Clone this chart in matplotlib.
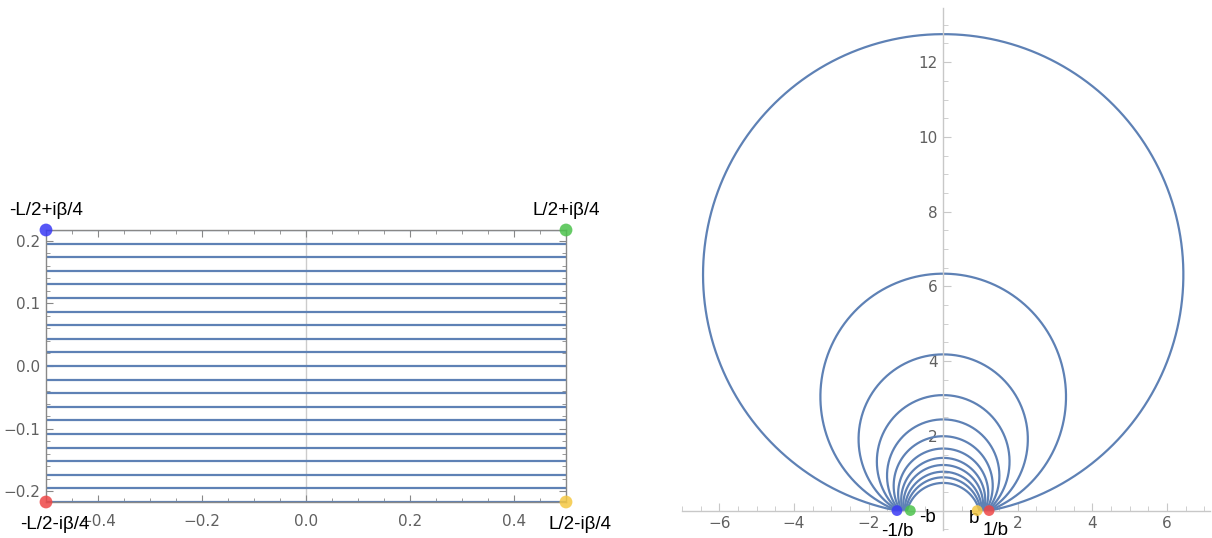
import numpy as np
import matplotlib
matplotlib.use("Agg")
import matplotlib.pyplot as plt
from matplotlib.ticker import MultipleLocator, FuncFormatter

# left panel: horizontal lines of the strip
x_ends = [-0.5, 0.5]
y_levels = [0.2175, 0.1958, 0.174, 0.1523, 0.1305, 0.1088, 0.087, 0.0653, 0.0435, 0.0218, 0.0,
            -0.0218, -0.0435, -0.0653, -0.087, -0.1088, -0.1305, -0.1523, -0.174, -0.1958, -0.2175]
corner_x = [-0.5, 0.5, -0.5, 0.5]
corner_y = [0.2175, 0.2175, -0.2175, -0.2175]
corner_labels = ["-L/2+i\u03b2/4", "L/2+i\u03b2/4", "-L/2-i\u03b2/4", "L/2-i\u03b2/4"]
corner_colors = ["#3a3af5", "#4cc24c", "#ee4646", "#f5c842"]

# right panel: arcs (top height on the y axis, foot on the real axis)
arc_tops = [12.75, 6.34, 4.18, 3.09, 2.44, 1.99, 1.66, 1.41, 1.22, 1.04, 0.89, 0.74]
arc_feet = [1.25, 1.24, 1.22, 1.20, 1.18, 1.15, 1.12, 1.09, 1.06, 1.03, 1.0, 0.97]
point_x = [-1.24, -0.88, 0.91, 1.23]
point_labels = ["-1/b", "-b", "b", "1/b"]
point_colors = ["#3a3af5", "#4cc24c", "#f5c842", "#ee4646"]

line_color = "#5e81b5"
tick_color = "#606060"
label_font = "Liberation Sans"


def minus(v, pos):
    return ("%.1f" % v).replace("-", "\u2212")


fig = plt.figure(figsize=(12.12, 5.38), dpi=100)

# ---------- left panel ----------
ax1 = fig.add_axes([46 / 1212, 36 / 538, 520 / 1212, 272 / 538])
for y in y_levels:
    ax1.plot(x_ends, [y, y], color=line_color, lw=1.6, solid_capstyle="butt")
ax1.axvline(0, color="#cccccc", lw=1, zorder=1)
ax1.set_xlim(-0.5, 0.5)
ax1.set_ylim(-0.2175, 0.2175)
for s in ax1.spines.values():
    s.set_color("#888888")
    s.set_linewidth(1.0)
ax1.xaxis.set_major_locator(MultipleLocator(0.2))
ax1.xaxis.set_minor_locator(MultipleLocator(0.05))
ax1.yaxis.set_major_locator(MultipleLocator(0.1))
ax1.yaxis.set_minor_locator(MultipleLocator(0.02))
ax1.xaxis.set_major_formatter(FuncFormatter(minus))
ax1.yaxis.set_major_formatter(FuncFormatter(minus))
ax1.tick_params(which="both", direction="in", top=True, right=True, color="#888888",
                labelcolor=tick_color, labelsize=11)
ax1.tick_params(which="major", length=5)
ax1.tick_params(which="minor", length=3)
ax1.tick_params(axis="x", pad=9)
ax1.tick_params(axis="y", pad=4)

ax1.scatter(corner_x, corner_y, s=85, c=corner_colors, alpha=0.85, zorder=5,
            clip_on=False, edgecolors="none")
offsets = [(0, 14), (0, 14), (6, -16), (10, -16)]
for x, y, t, off in zip(corner_x, corner_y, corner_labels, offsets):
    ax1.annotate(t, (x, y), xytext=off, textcoords="offset points", ha="center",
                 va="center", fontsize=13.5, family=label_font, annotation_clip=False)

# ---------- right panel ----------
ax2 = fig.add_axes([682 / 1212, 8 / 538, 528 / 1212, 522 / 538])
for h, x0 in zip(arc_tops, arc_feet):
    c = (h ** 2 - x0 ** 2) / (2 * h)
    r = h - c
    t0 = np.arctan2(-c, x0)
    t = np.linspace(t0, np.pi - t0, 400)
    ax2.plot(r * np.cos(t), c + r * np.sin(t), color=line_color, lw=1.6)

ax2.set_xlim(-7.0, 7.15)
ax2.set_ylim(-0.52, 13.45)
ax2.spines["left"].set_position(("data", 0))
ax2.spines["bottom"].set_position(("data", 0))
ax2.spines["top"].set_visible(False)
ax2.spines["right"].set_visible(False)
for s in ("left", "bottom"):
    ax2.spines[s].set_color("#c8c8c8")
    ax2.spines[s].set_linewidth(1.0)
ax2.set_xticks([-6, -4, -2, 2, 4, 6])
ax2.set_yticks([2, 4, 6, 8, 10, 12])
ax2.xaxis.set_minor_locator(MultipleLocator(0.5))
ax2.yaxis.set_minor_locator(MultipleLocator(0.5))
ax2.xaxis.set_major_formatter(FuncFormatter(lambda v, p: ("%d" % v).replace("-", "\u2212")))
ax2.tick_params(which="both", direction="in", color="#c8c8c8", labelcolor=tick_color,
                labelsize=11)
ax2.tick_params(which="major", length=6)
ax2.tick_params(which="minor", length=3.5)
ax2.tick_params(axis="x", pad=4)
ax2.tick_params(axis="y", pad=4)

ax2.scatter(point_x, [0, 0, 0, 0], s=60, c=point_colors, alpha=0.85, zorder=5,
            clip_on=False, edgecolors="none")
offsets2 = [(0, -15), (12, -5), (-2, -6), (5, -14)]
for x, t, off in zip(point_x, point_labels, offsets2):
    ax2.annotate(t, (x, 0), xytext=off, textcoords="offset points", ha="center",
                 va="center", fontsize=13.5, family=label_font, annotation_clip=False)

fig.savefig("out.png", dpi=100)
